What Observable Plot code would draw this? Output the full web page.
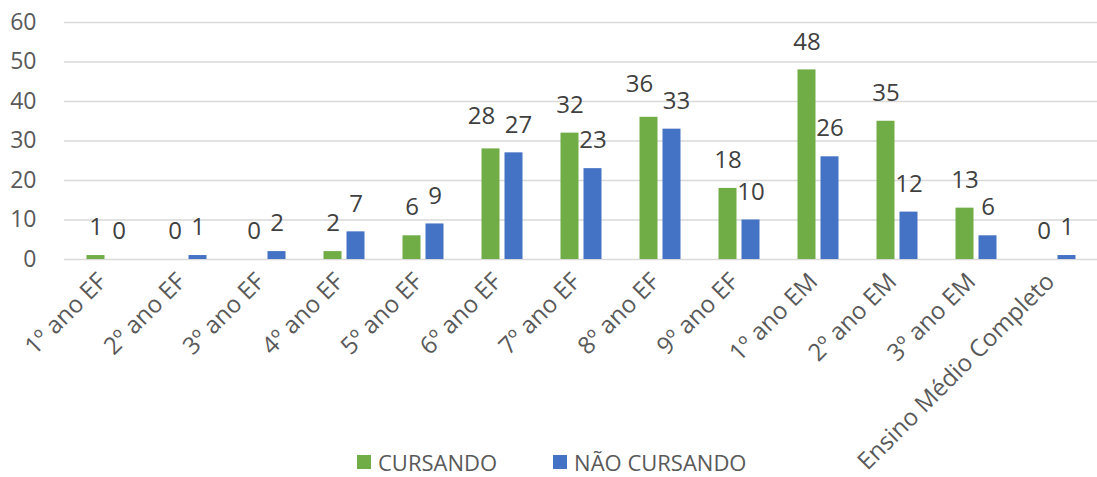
<!DOCTYPE html>
<html><head><meta charset="utf-8">
<script src="https://cdn.jsdelivr.net/npm/d3@7"></script>
<script src="https://cdn.jsdelivr.net/npm/@observablehq/plot@0.6"></script>
<style>
body{margin:0;background:#fff;font-family:"Open Sans",sans-serif;}
#wrap{position:relative;width:1097px;height:477px;overflow:hidden;}
#legend{position:absolute;top:447px;left:357px;display:flex;align-items:center;font-size:22px;color:#595959;white-space:nowrap;}
#legend .sw{display:inline-block;width:14px;height:14px;margin-right:7px;}
#legend .it{display:flex;align-items:center;margin-right:56px;}
</style></head><body>
<div id="wrap"><div id="chart"></div><div id="legend"></div></div>
<script>
const categories = ["1º ano EF","2º ano EF","3º ano EF","4º ano EF","5º ano EF","6º ano EF","7º ano EF","8º ano EF","9º ano EF","1º ano EM","2º ano EM","3º ano EM","Ensino Médio Completo"];
const cursando =    [1,0,0,2,6,28,32,36,18,48,35,13,0];
const naoCursando = [0,1,2,7,9,27,23,33,10,26,12,6,1];
const seriesNames = ["CURSANDO","NÃO CURSANDO"];
const seriesColors = ["#70AD47","#4472C4"];
const yTicks = [0,10,20,30,40,50,60];

const rowsC = categories.map((c,i)=>({cat:c, value:cursando[i]}));
const rowsN = categories.map((c,i)=>({cat:c, value:naoCursando[i]}));
// labels whose bars are close in height get pushed apart (like Excel's auto layout)
const isClose = (i) => Math.abs(cursando[i]-naoCursando[i]) < 5 && Math.max(cursando[i],naoCursando[i]) > 15;
const labC = rowsC.filter((d,i)=>!isClose(i)), labCClose = rowsC.filter((d,i)=>isClose(i));
const labN = rowsN.filter((d,i)=>!isClose(i)), labNClose = rowsN.filter((d,i)=>isClose(i));

const chart = Plot.plot({
  width: 1097,
  height: 477,
  marginTop: 22,
  marginBottom: 218,
  marginLeft: 64,
  marginRight: 0,
  style: {fontFamily: "Open Sans", fontSize: "22px", color: "#595959", background: "#fff"},
  x: {domain: categories, paddingInner: 0.774, paddingOuter: 0.387, label: null},
  y: {domain: [0,60], label: null},
  marks: [
    Plot.ruleY(yTicks, {stroke: "#d9d9d9", strokeWidth: 1.5}),
    Plot.barY(rowsC, {x: "cat", y: "value", fill: seriesColors[0], dx: -11.5}),
    Plot.barY(rowsN, {x: "cat", y: "value", fill: seriesColors[1], dx: 11.5}),
    Plot.text(labC, {x: "cat", y: "value", text: d => String(d.value), dx: -11.5, dy: -28, fontSize: 24, fill: "#404040"}),
    Plot.text(labN, {x: "cat", y: "value", text: d => String(d.value), dx: 11.5, dy: -28, fontSize: 24, fill: "#404040"}),
    Plot.text(labCClose, {x: "cat", y: "value", text: d => String(d.value), dx: -21, dy: -33, fontSize: 24, fill: "#404040"}),
    Plot.text(labNClose, {x: "cat", y: "value", text: d => String(d.value), dx: 16, dy: -28, fontSize: 24, fill: "#404040"}),
    Plot.axisY({ticks: yTicks, tickSize: 0, tickPadding: 28, fontSize: 23, label: null}),
    Plot.axisX({tickRotate: -45, tickSize: 0, tickPadding: 18, dx: -5, fontSize: 24, label: null})
  ]
});
document.getElementById("chart").appendChild(chart);

const lg = document.getElementById("legend");
seriesNames.forEach((n,i)=>{
  const it = document.createElement("span"); it.className="it";
  const sw = document.createElement("span"); sw.className="sw"; sw.style.background=seriesColors[i];
  it.appendChild(sw); it.appendChild(document.createTextNode(n));
  lg.appendChild(it);
});
</script>
</body></html>
